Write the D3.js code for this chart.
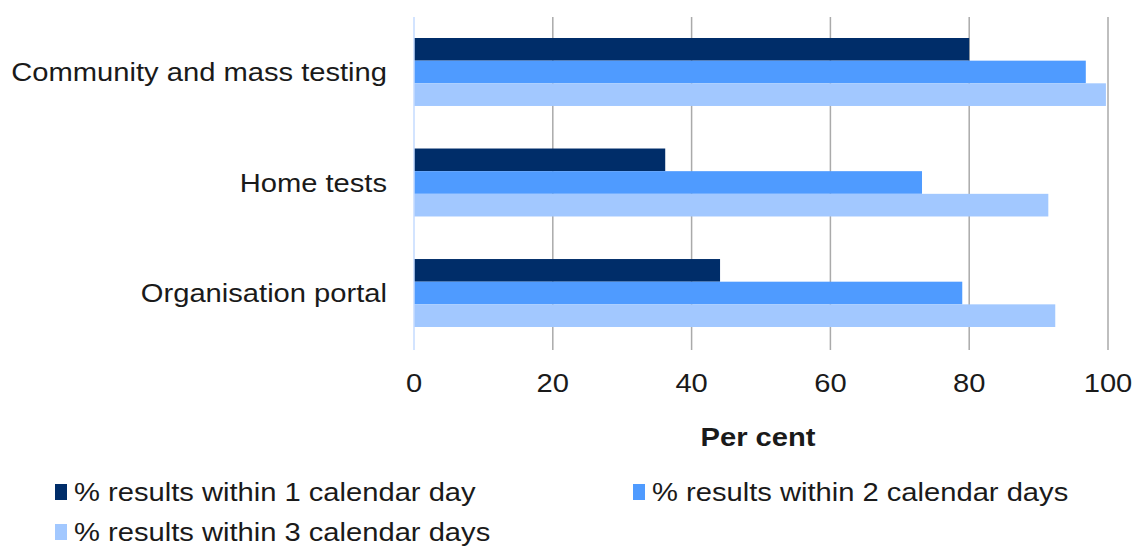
<!DOCTYPE html>
<html>
<head>
<meta charset="utf-8">
<script src="https://cdn.jsdelivr.net/npm/d3@7"></script>
<style>
  body { margin: 0; background: #fff; }
  svg { display: block; font-family: "Liberation Sans", Arial, sans-serif; }
</style>
</head>
<body>
<svg id="chart" width="1137" height="552"></svg>
<script>
const categories = ["Community and mass testing", "Home tests", "Organisation portal"];
const seriesNames = [
  "% results within 1 calendar day",
  "% results within 2 calendar days",
  "% results within 3 calendar days",
];
const within1Day = [80, 36.2, 44.1];
const within2Days = [96.8, 73.2, 79];
const within3Days = [99.7, 91.4, 92.4];
const xTicks = [0, 20, 40, 60, 80, 100];
const colors = ["#002d69", "#4f9bff", "#a2c8ff"];

const seriesValues = [within1Day, within2Days, within3Days];

const layout = {
  left: 414,
  right: 1108,
  top: 17,
  bottom: 348,
  fontSize: 26.5,
  stretch: 1.1,
};

const svg = d3.select("#chart");

// the reference text is a little wide, so stretch it horizontally
function addText(x, y, str, anchor, opts = {}) {
  return svg
    .append("text")
    .attr("transform", `translate(${x},${y}) scale(${layout.stretch},1)`)
    .attr("text-anchor", anchor)
    .attr("font-size", opts.size || layout.fontSize)
    .attr("font-weight", opts.weight || "normal")
    .attr("fill", "#1a1a1a")
    .text(str);
}

const x = d3.scaleLinear().domain([0, 100]).range([layout.left, layout.right]);
const y = d3
  .scaleBand()
  .domain(categories)
  .range([layout.top, layout.bottom])
  .paddingInner(0.385)
  .paddingOuter(0.19);
const ySub = d3.scaleBand().domain([0, 1, 2]).range([0, y.bandwidth()]);

// gridlines
svg
  .append("g")
  .selectAll("line")
  .data(xTicks.filter((t) => t > 0))
  .join("line")
  .attr("x1", (d) => x(d))
  .attr("x2", (d) => x(d))
  .attr("y1", layout.top)
  .attr("y2", layout.bottom + 2)
  .attr("stroke", "#aaaaaa")
  .attr("stroke-width", 1.5);

// bars
categories.forEach((cat, i) => {
  seriesValues.forEach((vals, s) => {
    svg
      .append("rect")
      .attr("x", x(0))
      .attr("y", y(cat) + ySub(s))
      .attr("width", x(vals[i]) - x(0))
      .attr("height", ySub.bandwidth())
      .attr("fill", colors[s]);
  });
});

// zero axis line
svg
  .append("line")
  .attr("x1", x(0))
  .attr("x2", x(0))
  .attr("y1", layout.top)
  .attr("y2", layout.bottom + 2)
  .attr("stroke", "#c4dbff")
  .attr("stroke-width", 1.5);

// category labels
categories.forEach((cat) => {
  addText(layout.left - 27, y(cat) + y.bandwidth() / 2 + 9, cat, "end");
});

// tick labels
xTicks.forEach((t) => {
  addText(x(t), 392, d3.format("d")(t), "middle");
});

addText((layout.left + layout.right) / 2 - 3, 446, "Per cent", "middle", { weight: "bold" });

// legend
const legendItems = [
  { x: 55, y: 501 },
  { x: 633, y: 501 },
  { x: 55, y: 541 },
];
seriesNames.forEach((name, s) => {
  const pos = legendItems[s];
  svg
    .append("rect")
    .attr("x", pos.x)
    .attr("y", pos.y - 17)
    .attr("width", 12)
    .attr("height", 16)
    .attr("fill", colors[s]);
  addText(pos.x + 19, pos.y, name, "start");
});
</script>
</body>
</html>
